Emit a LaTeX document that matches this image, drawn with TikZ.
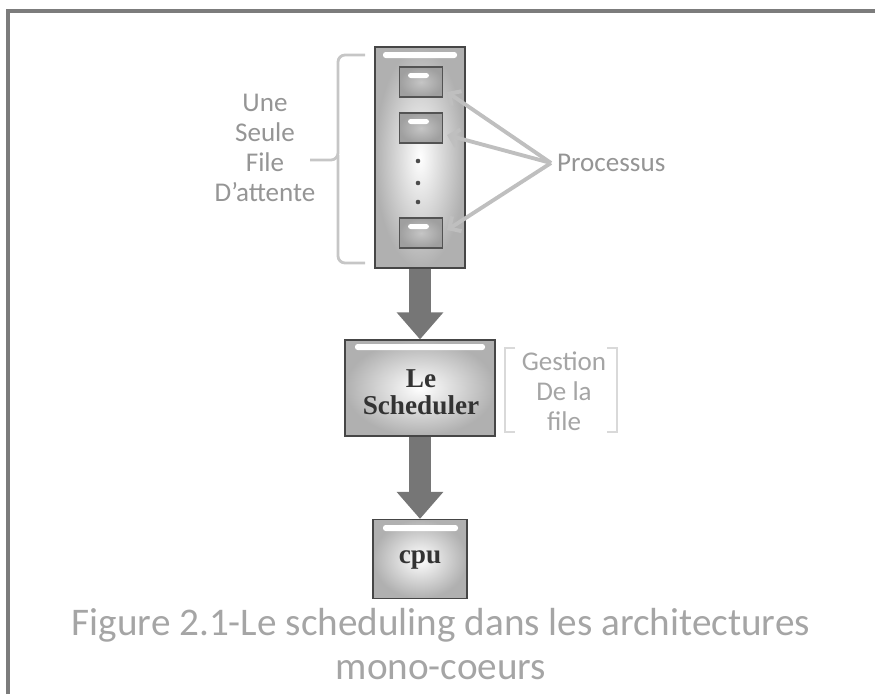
\documentclass[tikz,border=0pt]{standalone}
\usepackage{fontspec}
\newfontfamily\calibri{Carlito}
\newfontfamily\boxserif{Liberation Serif}
\usetikzlibrary{arrows.meta}

\definecolor{labelgray}{HTML}{959595}
\definecolor{capgray}{HTML}{A5A5A5}
\definecolor{framegray}{HTML}{7C7C7C}
\definecolor{arrowgray}{HTML}{767676}

\tikzset{
    panel/.style={draw=gray!55!black, line width=0.7pt, inner color=white, outer color=gray!62},
    slot/.style={draw=gray!65!black, line width=0.6pt, inner color=gray!45, outer color=gray!75,
        minimum width=0.86cm, minimum height=0.6cm},
    shine/.style={fill=white, rounded corners=1.5pt},
    bigarrow/.style={draw=arrowgray, line width=0.43cm, -{Triangle[width=0.9cm,length=0.54cm]}},
    pointer/.style={draw=gray!50, line width=2.2pt, -{Straight Barb[length=5pt,width=10pt]}},
    label/.style={text=labelgray, font=\calibri\fontsize{15.4}{17}\selectfont, align=center},
    boxtext/.style={text=black!80, font=\boxserif\bfseries\fontsize{15.5}{15.5}\selectfont, align=center}
}

\begin{document}
\begin{tikzpicture}[x=0.02cm, y=-0.02cm]
        \useasboundingbox (0,0) rectangle (875,694);
        \draw[framegray, line width=1.8pt] (8,694) -- (8,11) -- (875,11);

        % la file d'attente
        \node (queue)[panel, minimum width=1.8cm, minimum height=4.42cm] at (420,157.5){};
        \fill[shine] (383,52) rectangle (457,58);
        \node (p1)[slot] at (421,82){};
        \node (p2)[slot] at (421,128){};
        \node (p3)[slot] at (421,233){};
        \foreach \y in {82,128,233}
            {
                \fill[shine] (408,\y-9) rectangle (429,\y-4);
            }
        \foreach \y in {161,183,202}
            {
                \fill[black!70] (418,\y) circle (1.3pt);
            }

        % accolade
        \draw[gray!45, line width=1.6pt, rounded corners=4pt] (365,55) -- (338,55) -- (338,160) -- (310,160);
        \draw[gray!45, line width=1.6pt, rounded corners=4pt] (338,155) -- (338,263) -- (365,263);
        \node (file)[label] at (265,148){Une\\Seule\\File\\D’attente};

        % processus
        \node (proc)[label, anchor=west] at (551,163){Processus};
        \draw[pointer] (proc.west) -- ([xshift=2.3pt,yshift=-5.7pt]p1.east);
        \draw[pointer] (proc.west) -- ([xshift=2.3pt,yshift=-4pt]p2.east);
        \draw[pointer] (proc.west) -- ([xshift=2.3pt,yshift=1.7pt]p3.east);

        % le scheduler
        \node (sched)[panel, minimum width=3cm, minimum height=1.92cm] at (420,388){};
        \fill[shine] (355,344) rectangle (485,350);
        \node (schedtext)[boxtext] at (421,392){Le\\Scheduler};
        \draw[gray!30, line width=0.9pt] (515,348) -- (505,348) -- (505,432) -- (515,432);
        \draw[gray!30, line width=0.9pt] (607,348) -- (617,348) -- (617,432) -- (607,432);
        \node (gestion)[label, text=capgray] at (564,391){Gestion\\De la\\file};

        % le processeur
        \node (cpu)[panel, minimum width=1.88cm, minimum height=1.58cm] at (420,559){};
        \fill[shine] (383,525) rectangle (458,531);
        \node (cputext)[boxtext] at (420,560){cpu};

        \draw[bigarrow] (queue.south) -- (sched.north);
        \draw[bigarrow] (sched.south) -- (cpu.north);

        \node (caption)[text=capgray, font=\calibri\fontsize{22.3}{25}\selectfont, align=center] at (441,644)
            {Figure 2.1-Le scheduling dans les architectures\\mono-coeurs};
    \end{tikzpicture}
\end{document}
